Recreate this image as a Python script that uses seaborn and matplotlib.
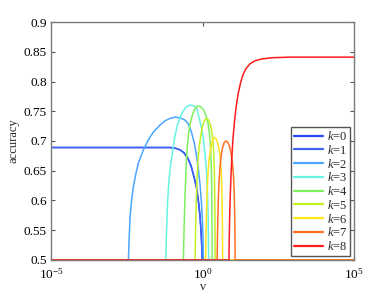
import numpy as np
import pandas as pd
import seaborn as sns
import matplotlib
matplotlib.use("Agg")
import matplotlib.pyplot as plt
from matplotlib.lines import Line2D

# ---- data (log10 of nu, accuracy) ----
k_labels = ["k=0", "k=1", "k=2", "k=3", "k=4", "k=5", "k=6", "k=7", "k=8"]
colors = ["#2a46f2", "#3c62f6", "#4aa6ff", "#66f4e2", "#7ef060",
          "#c2f222", "#ffe61c", "#ff6e22", "#ff1c1c"]

logx_k0 = [-5, -2.0, -1.073, -0.908, -0.743, -0.611, -0.479, -0.380, -0.281, -0.198,
           -0.132, -0.083, -0.050, -0.026, -0.017, 5]
acc_k0 = [0.689, 0.689, 0.689, 0.688, 0.685, 0.680, 0.670, 0.658, 0.639, 0.621,
          0.596, 0.572, 0.547, 0.522, 0.5, 0.5]

logx_k1 = [-5, -2.0, -1.073, -0.908, -0.743, -0.611, -0.479, -0.380, -0.281, -0.198,
           -0.132, -0.083, -0.050, -0.026, -0.017, 5]
acc_k1 = [0.689, 0.689, 0.689, 0.688, 0.685, 0.680, 0.670, 0.658, 0.639, 0.621,
          0.596, 0.572, 0.547, 0.522, 0.5, 0.5]

logx_k2 = [-5, -2.449, -2.426, -2.393, -2.343, -2.284, -2.211, -2.119, -1.954, -1.789,
           -1.624, -1.403, -1.238, -1.073, -0.908, -0.743, -0.578, -0.479, -0.380,
           -0.281, -0.215, -0.149, -0.083, -0.033, 0.0, 0.017, 0.026, 5]
acc_k2 = [0.5, 0.5, 0.534, 0.572, 0.601, 0.623, 0.643, 0.663, 0.685, 0.702,
          0.715, 0.727, 0.734, 0.738, 0.740, 0.739, 0.735, 0.729, 0.717,
          0.698, 0.680, 0.656, 0.626, 0.592, 0.559, 0.530, 0.5, 0.5]

logx_k3 = [-5, -1.215, -1.198, -1.178, -1.152, -1.112, -1.056, -1.007, -0.924, -0.842,
           -0.743, -0.644, -0.545, -0.446, -0.363, -0.281, -0.182, -0.083, -0.017,
           0.033, 0.083, 0.125, 0.158, 0.182, 0.191, 0.198, 5]
acc_k3 = [0.5, 0.5, 0.534, 0.567, 0.601, 0.634, 0.660, 0.676, 0.705, 0.725,
          0.740, 0.750, 0.757, 0.760, 0.760, 0.759, 0.753, 0.732, 0.717,
          0.700, 0.676, 0.651, 0.618, 0.576, 0.534, 0.5, 0.5]

logx_k4 = [-5, -0.634, -0.620, -0.604, -0.584, -0.561, -0.535, -0.502, -0.459, -0.413,
           -0.330, -0.248, -0.149, -0.050, 0.033, 0.116, 0.182, 0.224, 0.257, 0.281,
           0.297, 0.307, 0.314, 5]
acc_k4 = [0.5, 0.5, 0.534, 0.567, 0.601, 0.634, 0.668, 0.692, 0.713, 0.729,
          0.745, 0.755, 0.759, 0.757, 0.752, 0.742, 0.729, 0.713, 0.693, 0.668,
          0.634, 0.584, 0.5, 0.5]

logx_k5 = [-5, -0.248, -0.238, -0.224, -0.208, -0.185, -0.155, -0.116, -0.066, -0.007,
           0.056, 0.122, 0.188, 0.248, 0.297, 0.337, 0.366, 0.386, 0.399, 0.409, 0.413, 5]
acc_k5 = [0.5, 0.5, 0.534, 0.567, 0.601, 0.634, 0.665, 0.688, 0.708, 0.724,
          0.734, 0.738, 0.736, 0.729, 0.718, 0.702, 0.680, 0.651, 0.609, 0.559, 0.5, 0.5]

logx_k6 = [-5, 0.099, 0.109, 0.122, 0.139, 0.162, 0.191, 0.231, 0.281, 0.333, 0.386,
           0.439, 0.492, 0.538, 0.578, 0.611, 0.634, 0.647, 0.657, 0.660, 5]
acc_k6 = [0.5, 0.5, 0.534, 0.567, 0.601, 0.631, 0.656, 0.676, 0.691, 0.702, 0.706,
          0.704, 0.698, 0.688, 0.674, 0.651, 0.622, 0.584, 0.542, 0.5, 0.5]

logx_k7 = [-5, 0.479, 0.488, 0.502, 0.518, 0.541, 0.571, 0.611, 0.657, 0.710, 0.766,
           0.825, 0.884, 0.937, 0.980, 1.017, 1.043, 1.059, 1.069, 1.073, 5]
acc_k7 = [0.5, 0.5, 0.534, 0.567, 0.601, 0.631, 0.654, 0.675, 0.688, 0.697, 0.700,
          0.698, 0.692, 0.680, 0.665, 0.643, 0.614, 0.576, 0.537, 0.5, 0.5]

logx_k8 = [-5, 0.868, 0.878, 0.891, 0.908, 0.931, 0.960, 1.000, 1.050, 1.106, 1.172,
           1.248, 1.337, 1.436, 1.568, 1.733, 1.964, 2.294, 2.888, 5]
acc_k8 = [0.5, 0.5, 0.534, 0.567, 0.601, 0.634, 0.668, 0.702, 0.732, 0.757, 0.779,
          0.797, 0.812, 0.822, 0.830, 0.835, 0.838, 0.840, 0.841, 0.841]

x_tick_vals = [1e-5, 1e0, 1e5]
x_tick_labels = [r"$10^{-5}$", r"$10^{0}$", r"$10^{5}$"]
y_tick_vals = [0.5, 0.55, 0.6, 0.65, 0.7, 0.75, 0.8, 0.85, 0.9]
y_tick_labels = ["0.5", "0.55", "0.6", "0.65", "0.7", "0.75", "0.8", "0.85", "0.9"]

series = [(logx_k0, acc_k0), (logx_k1, acc_k1), (logx_k2, acc_k2), (logx_k3, acc_k3),
          (logx_k4, acc_k4), (logx_k5, acc_k5), (logx_k6, acc_k6), (logx_k7, acc_k7),
          (logx_k8, acc_k8)]

frames = []
for lab, (lx, ac) in zip(k_labels, series):
    frames.append(pd.DataFrame({"nu": np.power(10.0, np.array(lx, dtype=float)),
                                "accuracy": ac, "k": lab}))
df = pd.concat(frames, ignore_index=True)

# ---- style ----
sns.set_theme(style="white")
plt.rcParams["font.family"] = ["Liberation Serif", "DejaVu Serif"]
plt.rcParams["mathtext.fontset"] = "custom"
plt.rcParams["mathtext.rm"] = "Liberation Serif"
plt.rcParams["mathtext.it"] = "Liberation Serif:italic"

fig = plt.figure(figsize=(3.9, 2.94), dpi=100)
ax = fig.add_axes([0.131, 0.116, 0.777, 0.809])

sns.lineplot(data=df, x="nu", y="accuracy", hue="k", hue_order=k_labels,
             palette=colors, estimator=None, sort=True, linewidth=1.1,
             legend=False, ax=ax)

ax.set_xscale("log")
ax.set_xlim(1e-5, 1e5)
ax.set_ylim(0.5, 0.9)
ax.set_xticks(x_tick_vals)
ax.set_xticklabels(x_tick_labels)
ax.xaxis.set_minor_locator(matplotlib.ticker.NullLocator())
ax.set_yticks(y_tick_vals)
ax.set_yticklabels(y_tick_labels)

ax.tick_params(axis="both", which="both", direction="in", length=3, width=0.8,
               colors="#555555", labelcolor="black", labelsize=9.5,
               top=True, right=True, bottom=True, left=True, pad=3)
ax.tick_params(axis="x", pad=5)
for sp in ax.spines.values():
    sp.set_visible(True)
    sp.set_color("#7a7a7a")
    sp.set_linewidth(1.0)

ax.set_xlabel("ν", fontsize=9.5, labelpad=0)
ax.set_ylabel("accuracy", fontsize=9, labelpad=3)

handles = [Line2D([0], [0], color=c, lw=1.6) for c in colors]
labels = [r"$k$=" + lab.split("=")[1] for lab in k_labels]
leg = ax.legend(handles, labels, loc="lower right", fontsize=9,
                frameon=True, fancybox=False, framealpha=1,
                edgecolor="#555555", borderaxespad=0.3, borderpad=0.25,
                handlelength=2.3, handletextpad=0.3, labelspacing=0.06)
leg.get_frame().set_linewidth(1.0)

fig.savefig("out.png", dpi=100)
